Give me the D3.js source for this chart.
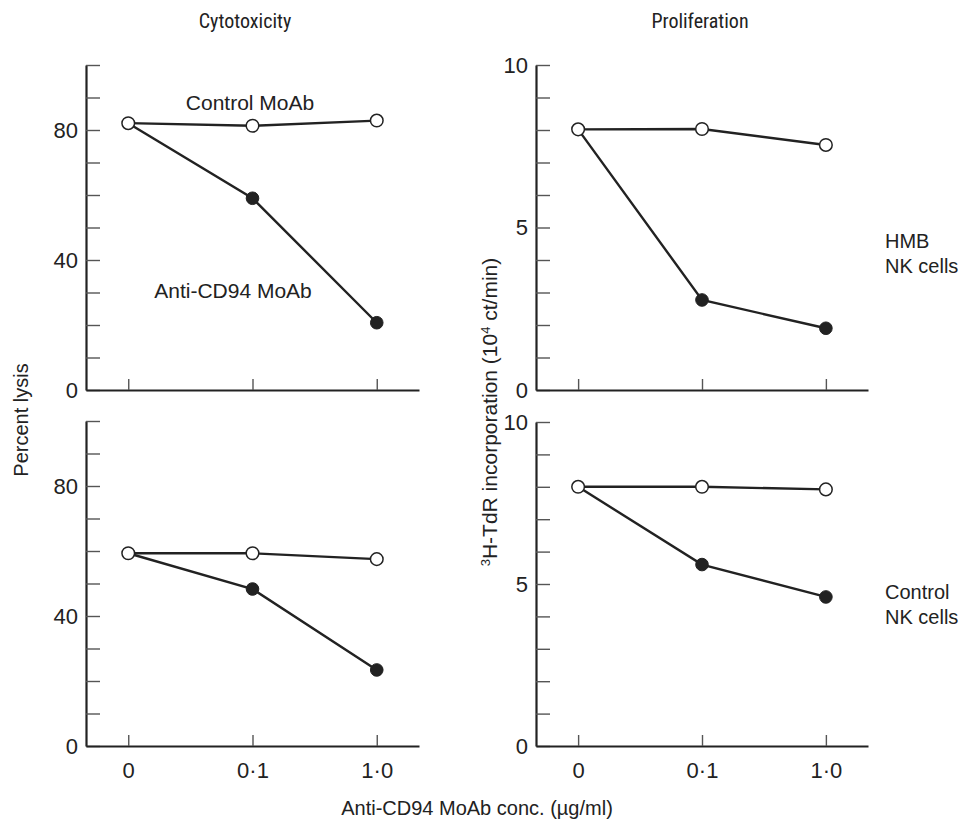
<!DOCTYPE html>
<html>
<head>
<meta charset="utf-8">
<script src="https://cdn.jsdelivr.net/npm/d3@7"></script>
<style>
  body { margin: 0; background: #fff; }
  svg { display: block; }
  text { font-family: "Liberation Sans", Arial, Helvetica, sans-serif; fill: #222; }
</style>
</head>
<body>
<svg id="chart" width="967" height="825"></svg>
<script>
// ---------- data ----------
const concentrations = ["0", "0·1", "1·0"];

const lysisHmbControl = [82.1, 81.3, 82.9];
const lysisHmbAnti    = [82.1, 59.0, 20.7];
const lysisCtlControl = [59.3, 59.3, 57.5];
const lysisCtlAnti    = [59.3, 48.3, 23.4];

const prolHmbControl = [8.02, 8.03, 7.54];
const prolHmbAnti    = [8.02, 2.77, 1.90];
const prolCtlControl = [8.00, 8.00, 7.92];
const prolCtlAnti    = [8.00, 5.60, 4.60];

const lysisTicks = [0, 10, 20, 30, 40, 50, 60, 70, 80, 90, 100];
const lysisTickLabels = [0, 40, 80];
const prolTicks = [0, 1, 2, 3, 4, 5, 6, 7, 8, 9, 10];
const prolTickLabels = [0, 5, 10];

// ---------- drawing ----------
const svg = d3.select("#chart");
const ink = "#222";
const FONT = '"Liberation Sans", Arial, Helvetica, sans-serif';
const NARROW = '"Liberation Sans Narrow", "Roboto Condensed", "Liberation Sans", sans-serif';

const panels = [
  { x0: 86,  x1: 419, y0: 390, y1: 65,  domain: [0, 100], ticks: lysisTicks, labels: lysisTickLabels,
    control: lysisHmbControl, anti: lysisHmbAnti, xLabels: false },
  { x0: 86,  x1: 419, y0: 746, y1: 421, domain: [0, 100], ticks: lysisTicks, labels: lysisTickLabels,
    control: lysisCtlControl, anti: lysisCtlAnti, xLabels: true },
  { x0: 536, x1: 868, y0: 390, y1: 65,  domain: [0, 10], ticks: prolTicks, labels: prolTickLabels,
    control: prolHmbControl, anti: prolHmbAnti, xLabels: false },
  { x0: 536, x1: 868, y0: 746, y1: 422, domain: [0, 10], ticks: prolTicks, labels: prolTickLabels,
    control: prolCtlControl, anti: prolCtlAnti, xLabels: true }
];

panels.forEach(p => {
  const x = d3.scalePoint().domain(concentrations).range([p.x0, p.x1]).padding(0.34);
  const y = d3.scaleLinear().domain(p.domain).range([p.y0, p.y1]);

  const yAxis = d3.axisLeft(y)
    .tickValues(p.ticks)
    .tickSizeInner(-14)
    .tickSizeOuter(0)
    .tickPadding(8)
    .tickFormat(d => p.labels.includes(d) ? String(d) : "");
  const gy = svg.append("g").attr("transform", `translate(${p.x0},0)`).call(yAxis);

  const xAxis = d3.axisBottom(x)
    .tickSizeInner(-11)
    .tickSizeOuter(0)
    .tickPadding(16)
    .tickFormat(d => p.xLabels ? d : "");
  const gx = svg.append("g").attr("transform", `translate(0,${p.y0})`).call(xAxis);

  [gy, gx].forEach(g => {
    g.select(".domain").attr("stroke", ink).attr("stroke-width", 2.2);
    g.selectAll(".tick line").attr("stroke", "#555").attr("stroke-width", 1.4);
    g.selectAll(".tick text").attr("font-size", 22).attr("fill", ink)
      .style("font-family", FONT);
  });

  const line = d3.line().x((d, i) => x(concentrations[i])).y(d => y(d));

  svg.append("path").datum(p.anti).attr("d", line)
    .attr("fill", "none").attr("stroke", ink).attr("stroke-width", 2.4);
  svg.append("path").datum(p.control).attr("d", line)
    .attr("fill", "none").attr("stroke", ink).attr("stroke-width", 2.4);

  // filled markers (anti-CD94), skipping the shared first point
  svg.selectAll(null).data(p.anti.slice(1)).enter().append("circle")
    .attr("cx", (d, i) => x(concentrations[i + 1])).attr("cy", d => y(d)).attr("r", 6.3)
    .attr("fill", ink).attr("stroke", ink).attr("stroke-width", 1);
  // open markers (control)
  svg.selectAll(null).data(p.control).enter().append("circle")
    .attr("cx", (d, i) => x(concentrations[i])).attr("cy", d => y(d)).attr("r", 6.3)
    .attr("fill", "#fff").attr("stroke", ink).attr("stroke-width", 1.5);
});

// titles
svg.append("text").attr("x", 245).attr("y", 28).attr("text-anchor", "middle")
  .attr("font-size", 20).style("font-family", NARROW).text("Cytotoxicity");
svg.append("text").attr("x", 700).attr("y", 28).attr("text-anchor", "middle")
  .attr("font-size", 20).style("font-family", NARROW).text("Proliferation");

// series annotations
svg.append("text").attr("x", 250).attr("y", 110).attr("text-anchor", "middle")
  .attr("font-size", 21).style("font-family", FONT).text("Control MoAb");
svg.append("text").attr("x", 233).attr("y", 298).attr("text-anchor", "middle")
  .attr("font-size", 21).style("font-family", FONT).text("Anti-CD94 MoAb");

// y axis labels
svg.append("text").attr("transform", "translate(28,420) rotate(-90)")
  .attr("text-anchor", "middle").attr("font-size", 20).style("font-family", FONT).text("Percent lysis");

const yl = svg.append("text").attr("transform", "translate(497,412) rotate(-90)")
  .attr("text-anchor", "middle").attr("font-size", 21).style("font-family", FONT);
yl.append("tspan").attr("font-size", 13).attr("dy", -7).text("3");
yl.append("tspan").attr("dy", 7).text("H-TdR incorporation (10");
yl.append("tspan").attr("font-size", 13).attr("dy", -7).text("4");
yl.append("tspan").attr("dy", 7).text(" ct/min)");

// x axis label
svg.append("text").attr("x", 477).attr("y", 815).attr("text-anchor", "middle")
  .attr("font-size", 20).style("font-family", FONT).text("Anti-CD94 MoAb conc. (µg/ml)");

// row labels
const rowLabel = (x, y, t) => svg.append("text").attr("x", x).attr("y", y)
  .attr("font-size", 20).style("font-family", FONT).text(t);
rowLabel(885, 248, "HMB");
rowLabel(885, 273, "NK cells");
rowLabel(885, 599, "Control");
rowLabel(885, 624, "NK cells");
</script>
</body>
</html>
